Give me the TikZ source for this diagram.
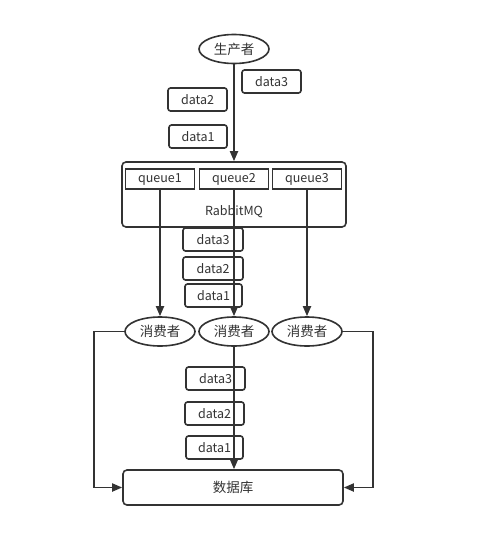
\documentclass[tikz,border=0pt]{standalone}
\usepackage{fontspec}
\setmainfont{Noto Sans CJK SC}
\usetikzlibrary{arrows.meta,shapes.geometric}
\definecolor{ink}{HTML}{333333}
\tikzset{
  box/.style={draw=ink,line width=1.6pt,rounded corners=2.5pt,fill=white,inner sep=0pt,font=\fontsize{12.5}{14}\selectfont,text=ink},
  ell/.style={draw=ink,line width=1.6pt,ellipse,fill=white,inner sep=0pt,minimum width=70pt,minimum height=29pt,font=\fontsize{13.5}{15}\selectfont,text=ink},
  qbox/.style={draw=ink,line width=1.6pt,fill=white,inner sep=0pt,minimum width=69pt,minimum height=20pt,font=\fontsize{12.5}{14}\selectfont,text=ink},
  link/.style={draw=ink,line width=1.8pt,-{Triangle[length=10pt,width=8pt]}},
}
\begin{document}
\begin{tikzpicture}[x=1pt,y=-1pt]
\useasboundingbox[fill=white] (0,0) rectangle (492,538);
% producer
\node[ell] (prod) at (234,49) {生产者};
\node[box,minimum width=59pt,minimum height=23pt] (p3) at (271.5,81.5) {data3};
\node[box,minimum width=59pt,minimum height=23pt] (p2) at (197.5,99.5) {data2};
\node[box,minimum width=58pt,minimum height=23pt] (p1) at (198,136.5) {data1};
% RabbitMQ
\node[box,minimum width=224pt,minimum height=65pt,rounded corners=4pt] (mq) at (234,194.5) {};
\node[font=\fontsize{12.5}{14}\selectfont,text=ink] (mqt) at (234,212) {RabbitMQ};
\node[qbox] (q1) at (160,179) {queue1};
\node[qbox] (q2) at (234,179) {queue2};
\node[qbox] (q3) at (307,179) {queue3};
% middle data
\node[box,minimum width=60pt,minimum height=23pt] (m3) at (213,239.5) {data3};
\node[box,minimum width=60pt,minimum height=23pt] (m2) at (213,268.5) {data2};
\node[box,minimum width=57pt,minimum height=23pt] (m1) at (213.5,295.5) {data1};
% consumers
\node[ell] (c1) at (160,331.5) {消费者};
\node[ell] (c2) at (234,331.5) {消费者};
\node[ell] (c3) at (307,331.5) {消费者};
% lower data
\node[box,minimum width=59pt,minimum height=23pt] (l3) at (215.5,378.5) {data3};
\node[box,minimum width=59pt,minimum height=23pt] (l2) at (214.5,413.5) {data2};
\node[box,minimum width=57pt,minimum height=23pt] (l1) at (214.5,447.5) {data1};
% database
\node[box,minimum width=220pt,minimum height=35pt,rounded corners=4pt,font=\fontsize{13.5}{15}\selectfont] (db) at (233,487.5) {数据库};
% connectors
\draw[link] (prod.south) -- (mq.north);
\draw[link] (q1.south) -- (c1.north);
\draw[link] (q2.south) -- (c2.north);
\draw[link] (q3.south) -- (c3.north);
\draw[link] (c2.south) -- (db.north -| c2.south);
\coordinate (lc) at (94,331.5);
\coordinate (rc) at (373,331.5);
\draw[link] (c1.west) -- (lc) |- (db.west);
\draw[link] (c3.east) -- (rc) |- (db.east);
\end{tikzpicture}
\end{document}
